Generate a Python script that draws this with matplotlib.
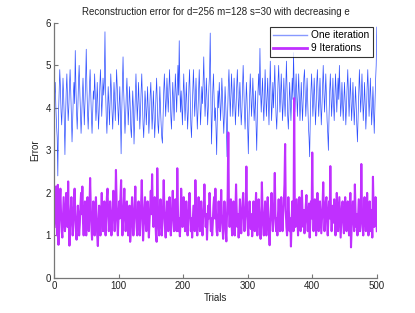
import numpy as np
import matplotlib
matplotlib.use("Agg")
import matplotlib.pyplot as plt

plt.rcParams['font.family'] = ['Liberation Sans', 'DejaVu Sans']

title = "Reconstruction error for d=256 m=128 s=30 with decreasing e"
x_label = "Trials"
y_label = "Error"
series_names = ["One iteration", "9 Iterations"]
x_ticks = [0, 100, 200, 300, 400, 500]
y_ticks = [0, 1, 2, 3, 4, 5, 6]

one_iteration = [
    4.3, 4.6, 4.0, 3.6, 3.3, 2.4, 3.8, 4.4, 4.9, 4.5, 3.9, 3.6, 4.1, 4.7, 4.3, 3.7, 2.9, 3.8, 4.4, 4.8, 4.2, 3.7, 4.0, 4.5, 4.9,
    4.4, 3.8, 3.2, 3.7, 4.3, 4.6, 4.1, 5.35, 4.5, 3.9, 3.5, 4.0, 4.6, 5.0, 4.4, 3.9, 3.4, 3.8, 4.3, 4.7, 4.2, 3.6, 4.1, 4.6, 5.38,
    4.5, 3.9, 3.5, 4.0, 4.5, 4.9, 4.3, 3.8, 3.4, 3.9, 4.4, 4.2, 4.8, 4.3, 3.7, 4.0, 4.6, 4.1, 3.5, 3.9, 4.5, 4.9, 4.4, 3.8, 4.2,
    4.7, 4.3, 4.6, 5.79, 4.4, 3.8, 3.4, 3.9, 4.5, 4.1, 3.6, 4.2, 4.8, 4.4, 3.9, 3.5, 4.0, 4.6, 4.2, 3.7, 4.3, 4.9, 4.5, 4.0, 3.6,
    4.1, 4.5, 3.8, 2.92, 3.9, 4.6, 5.2, 4.4, 3.9, 3.4, 3.8, 4.3, 4.7, 4.2, 3.6, 4.0, 4.5, 4.1, 3.5, 3.3, 3.9, 4.4, 4.0, 3.15, 3.7,
    4.3, 4.8, 4.2, 3.7, 4.1, 4.6, 4.0, 3.5, 3.9, 4.4, 4.8, 4.2, 3.6, 3.3, 3.8, 4.4, 4.1, 3.6, 4.0, 4.5, 3.9, 3.4, 3.8, 4.3, 4.6,
    4.0, 3.5, 3.9, 4.4, 3.8, 3.3, 3.7, 4.3, 4.7, 4.1, 3.6, 3.4, 3.9, 4.5, 4.0, 3.6, 3.3, 3.17, 3.8, 4.4, 4.8, 4.3, 3.8, 4.2, 4.7,
    4.3, 3.9, 4.4, 4.9, 4.4, 3.8, 3.5, 4.1, 4.6, 4.2, 3.7, 4.2, 4.8, 4.4, 3.9, 4.5, 5.0, 4.3, 5.58, 4.5, 3.9, 4.4, 4.0, 3.6, 4.3,
    4.8, 4.2, 3.7, 4.1, 4.6, 4.0, 3.5, 3.9, 4.5, 4.9, 4.3, 3.6, 3.3, 3.9, 4.4, 4.9, 4.3, 3.8, 4.2, 4.7, 4.1, 3.5, 3.9, 4.4, 4.9,
    4.2, 3.6, 4.0, 4.5, 4.1, 4.6, 5.2, 4.4, 3.8, 4.2, 4.7, 4.2, 3.6, 4.0, 4.5, 4.8, 5.76, 4.3, 3.15, 3.8, 4.4, 4.8, 4.2, 3.7, 4.0,
    3.5, 2.9, 3.8, 4.4, 4.0, 4.6, 4.2, 3.7, 4.1, 4.7, 4.3, 3.8, 3.4, 3.9, 4.5, 4.1, 3.6, 2.85, 3.9, 4.5, 4.9, 4.3, 3.8, 4.3, 4.8,
    4.3, 3.8, 4.2, 4.7, 4.2, 3.6, 4.0, 4.5, 4.9, 4.4, 3.8, 4.2, 4.6, 4.1, 3.6, 3.9, 4.5, 5.0, 4.5, 3.9, 3.5, 4.0, 4.6, 4.2, 3.6,
    2.92, 3.7, 4.3, 4.8, 4.3, 3.8, 4.2, 4.7, 4.2, 3.7, 4.0, 4.4, 3.6, 3.0, 3.8, 4.4, 4.8, 4.3, 5.4, 4.4, 3.9, 4.3, 4.7, 4.1, 3.7,
    4.2, 4.9, 4.3, 3.8, 4.2, 4.7, 4.1, 3.6, 4.3, 5.1, 4.4, 3.7, 4.1, 4.6, 4.0, 4.5, 5.0, 4.3, 3.8, 3.5, 4.0, 4.6, 5.0, 4.4, 3.9,
    4.3, 4.8, 4.2, 3.7, 4.1, 4.7, 4.2, 3.8, 4.4, 5.1, 4.4, 3.8, 3.5, 4.0, 4.6, 4.2, 3.7, 4.2, 4.7, 4.2, 5.3, 4.5, 3.9, 4.3, 4.8,
    4.3, 3.8, 4.3, 4.8, 4.2, 3.7, 4.1, 4.6, 4.1, 3.7, 4.2, 4.7, 4.9, 4.3, 3.8, 4.2, 4.7, 4.1, 3.6, 3.3, 2.85, 3.8, 4.4, 4.8, 4.3,
    3.8, 4.2, 4.7, 4.2, 3.6, 4.0, 4.6, 4.9, 4.3, 3.8, 4.2, 4.7, 4.1, 3.6, 4.0, 4.5, 5.0, 4.4, 3.9, 4.3, 4.8, 4.2, 3.7, 3.4, 3.0,
    3.8, 4.4, 4.8, 4.3, 3.8, 4.2, 4.7, 4.1, 3.7, 4.2, 4.8, 4.4, 3.9, 4.3, 4.7, 4.2, 5.0, 4.4, 3.8, 4.1, 4.6, 4.1, 3.7, 4.2, 4.6,
    4.1, 3.6, 4.0, 4.5, 4.9, 4.3, 3.8, 4.2, 4.7, 4.2, 3.7, 4.1, 4.6, 4.1, 3.6, 4.0, 4.5, 4.1, 3.6, 3.2, 3.8, 4.4, 4.9, 4.4, 3.9,
    4.3, 4.8, 4.2, 3.7, 4.1, 4.6, 4.0, 3.5, 3.9, 4.5, 4.9, 4.3, 3.8, 4.2, 4.7, 4.1, 3.6, 4.0, 4.5, 3.9, 3.4, 4.0, 4.6, 5.0, 5.9,
]

nine_iterations = [
    1.2, 1.6, 2.15, 1.5, 1.0, 2.19, 0.78, 1.3, 1.8, 2.1, 1.5, 1.1, 0.95, 1.4, 1.9, 1.5, 1.1, 1.3, 2.0, 1.6, 1.2, 2.27, 1.3, 0.76, 1.2,
    1.6, 1.9, 1.4, 1.0, 1.3, 1.8, 2.1, 1.5, 1.1, 0.9, 1.3, 1.7, 1.4, 1.0, 1.25, 1.7, 2.0, 1.5, 2.15, 1.3, 1.0, 1.4, 1.8, 1.3, 1.0,
    1.4, 1.9, 1.5, 1.1, 1.6, 2.35, 1.7, 1.2, 0.9, 1.3, 1.8, 1.4, 1.0, 1.5, 1.9, 1.4, 1.0, 0.75, 1.3, 1.7, 1.3, 1.0, 1.5, 2.0, 1.5,
    1.1, 1.4, 1.8, 1.3, 1.0, 1.5, 1.9, 2.1, 1.5, 1.1, 1.4, 1.8, 1.4, 1.0, 1.3, 1.7, 2.05, 1.5, 1.1, 1.5, 2.54, 1.8, 1.3, 1.0, 1.4,
    1.8, 1.4, 1.9, 2.3, 1.5, 1.0, 1.3, 1.7, 2.1, 1.5, 1.1, 1.4, 1.8, 1.3, 1.0, 1.4, 1.7, 0.85, 1.1, 1.5, 1.9, 1.4, 1.0, 1.3, 1.7,
    2.15, 1.6, 1.2, 1.0, 1.4, 1.8, 1.3, 1.0, 1.4, 1.75, 2.3, 1.6, 0.88, 1.2, 1.6, 1.9, 1.4, 1.1, 1.5, 1.8, 1.3, 0.95, 1.3, 1.7, 2.05,
    1.5, 2.44, 1.6, 1.2, 1.5, 1.9, 1.4, 1.0, 0.85, 2.58, 1.7, 1.3, 1.0, 1.5, 1.85, 1.4, 1.0, 1.3, 1.7, 2.3, 1.6, 1.2, 0.95, 1.4, 1.8,
    1.4, 1.1, 1.5, 1.9, 1.4, 1.0, 1.3, 1.7, 2.05, 1.5, 1.1, 1.4, 1.85, 1.4, 1.1, 2.58, 1.6, 1.1, 1.4, 0.98, 1.3, 2.1, 1.6, 1.2, 1.5,
    1.9, 1.4, 1.1, 1.5, 1.8, 1.3, 1.0, 1.4, 1.7, 2.0, 1.5, 1.1, 1.4, 0.95, 1.3, 1.7, 1.4, 1.1, 2.3, 1.6, 1.2, 1.0, 1.5, 1.9, 1.4,
    1.1, 1.4, 1.8, 1.3, 1.0, 1.4, 1.7, 2.2, 1.6, 1.2, 1.5, 0.9, 1.3, 1.7, 1.4, 2.0, 1.5, 1.1, 1.4, 1.0, 1.3, 1.7, 1.9, 1.4, 2.1,
    1.5, 1.1, 1.0, 1.4, 1.8, 1.4, 1.1, 1.5, 2.07, 1.5, 1.2, 0.92, 1.3, 1.8, 1.4, 1.1, 0.86, 1.5, 1.9, 3.42, 1.6, 1.2, 1.5, 1.85, 1.3,
    1.0, 1.4, 1.8, 1.3, 1.0, 1.5, 2.2, 1.6, 1.2, 1.5, 0.95, 1.4, 1.85, 1.4, 1.05, 1.4, 1.75, 2.0, 1.5, 1.1, 1.4, 1.7, 2.62, 1.6, 1.2,
    1.0, 1.4, 1.8, 1.4, 1.15, 1.5, 0.98, 1.4, 1.8, 1.5, 1.1, 1.6, 2.0, 1.4, 1.0, 1.3, 1.85, 1.5, 1.2, 0.92, 1.4, 2.25, 1.6, 1.2, 1.0,
    1.4, 1.8, 1.4, 1.0, 1.5, 1.9, 1.4, 1.1, 0.77, 1.3, 1.7, 2.0, 1.5, 1.1, 1.4, 1.8, 2.47, 1.5, 1.1, 1.4, 1.0, 1.5, 1.85, 1.4, 1.1,
    1.5, 1.9, 1.4, 1.1, 1.5, 1.8, 2.2, 3.15, 1.6, 1.2, 1.0, 1.4, 1.9, 1.5, 1.1, 1.4, 0.74, 1.3, 1.8, 1.4, 1.1, 4.23, 1.6, 1.2, 1.5,
    1.85, 1.4, 1.0, 1.5, 1.9, 1.4, 1.1, 1.4, 2.05, 1.5, 1.2, 1.6, 1.05, 1.3, 1.7, 1.95, 1.4, 1.1, 1.4, 1.75, 0.95, 1.3, 1.8, 1.4, 2.95,
    1.5, 1.1, 1.4, 1.85, 1.4, 1.0, 1.4, 2.0, 1.5, 1.1, 1.4, 1.8, 1.4, 1.05, 1.4, 1.7, 2.25, 1.6, 1.1, 1.4, 1.8, 1.9, 1.3, 1.0, 1.4,
    1.8, 1.4, 2.63, 1.5, 1.1, 1.4, 1.7, 1.3, 1.85, 1.4, 1.0, 1.3, 2.0, 1.5, 1.1, 1.5, 1.9, 1.4, 0.95, 1.3, 1.7, 1.8, 1.35, 1.05, 1.5,
    1.9, 1.4, 1.1, 1.5, 1.8, 1.3, 1.0, 1.4, 2.0, 0.72, 1.2, 1.6, 1.8, 1.4, 1.1, 2.2, 1.6, 1.2, 1.5, 1.0, 1.4, 1.85, 1.5, 1.1, 1.4,
    2.68, 1.6, 1.2, 1.0, 1.5, 1.9, 1.4, 1.1, 1.4, 2.0, 1.5, 1.0, 1.3, 1.8, 1.4, 1.1, 1.6, 0.95, 2.38, 1.6, 1.2, 1.5, 1.9, 1.4, 1.1,
]

trials = np.arange(1, len(one_iteration) + 1)

fig = plt.figure(figsize=(4.15, 3.13), dpi=100)
ax = fig.add_axes([0.130, 0.112, 0.778, 0.815])

ax.plot(trials, one_iteration, color='#3050ff', lw=0.5, label=series_names[0])
ax.plot(trials, nine_iterations, color='#c030ff', lw=1.5, label=series_names[1])

ax.set_xlim(0, 500)
ax.set_ylim(0, 6)
ax.set_xticks(x_ticks)
ax.set_yticks(y_ticks)

for side in ['top', 'right']:
    ax.spines[side].set_visible(False)
for side in ['left', 'bottom']:
    ax.spines[side].set_color('#777777')
    ax.spines[side].set_linewidth(0.9)
ax.tick_params(direction='in', length=3, width=0.8, color='#777777',
               labelsize=7, labelcolor='#222222', pad=2)

ax.set_title(title, fontsize=7, color='#222222', pad=6)
ax.set_xlabel(x_label, fontsize=7, color='#222222', labelpad=2)
ax.set_ylabel(y_label, fontsize=7, color='#222222', labelpad=4)

leg = ax.legend(loc='upper right', fontsize=7.3, frameon=True, fancybox=False,
                handlelength=3.3, handletextpad=0.4, borderpad=0.35,
                labelspacing=0.3, borderaxespad=0.4)
leg.get_frame().set_edgecolor('#000000')
leg.get_frame().set_linewidth(0.8)
leg.get_lines()[0].set_color('#8899ff')
leg.get_lines()[0].set_linewidth(1.0)
leg.get_lines()[1].set_linewidth(2.0)

fig.savefig('out.png', dpi=100)
